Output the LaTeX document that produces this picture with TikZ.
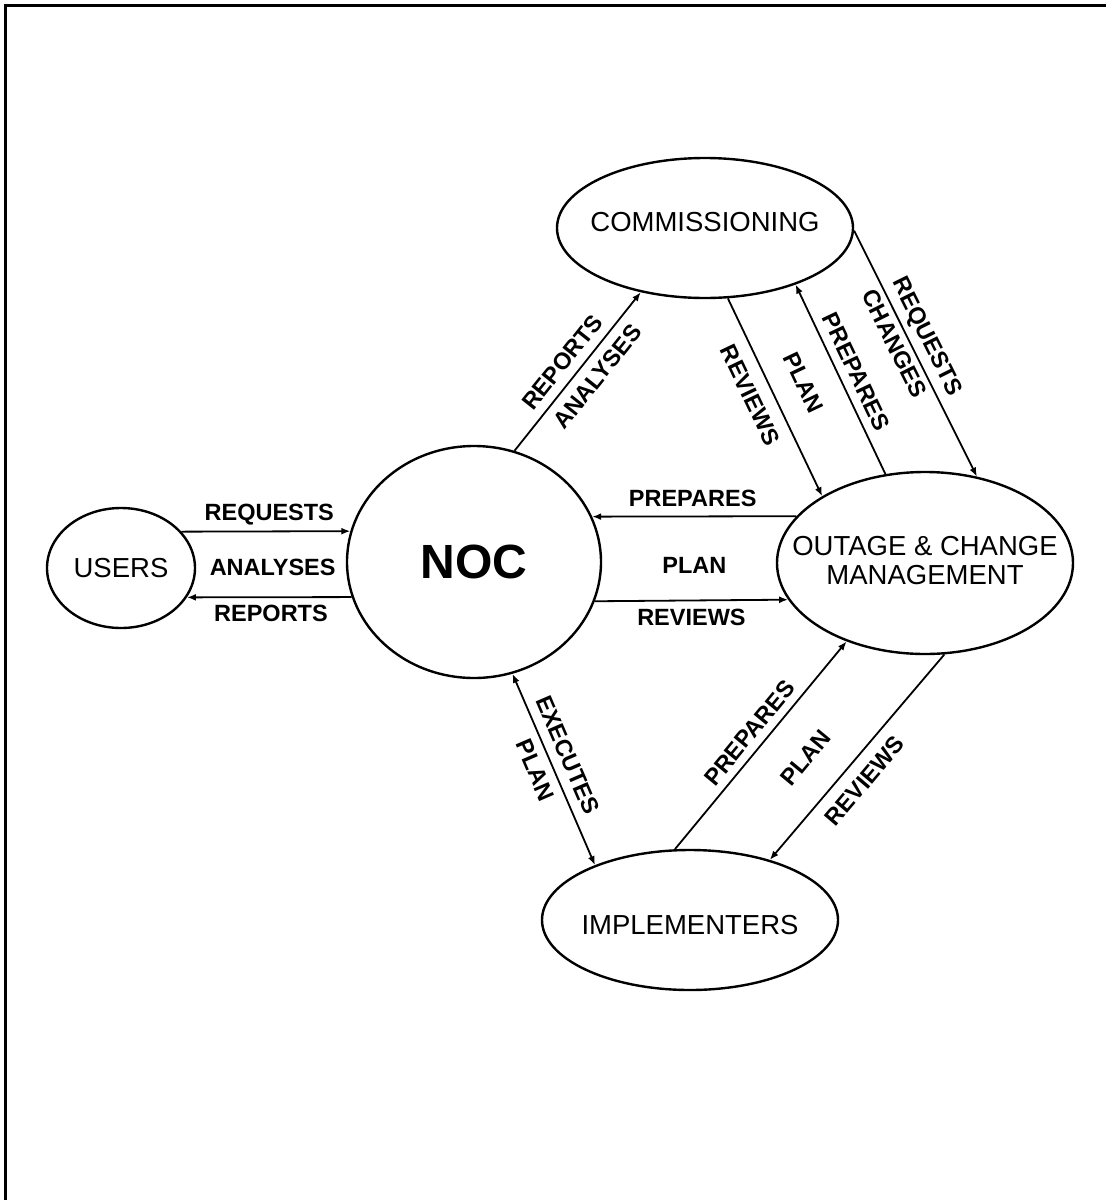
\documentclass[tikz,border=0pt]{standalone}
\usepackage{fontspec}
\setmainfont{Liberation Sans}
\usetikzlibrary{arrows.meta,shapes.geometric}
\newcommand\entfont{\fontsize{27.5}{29}\selectfont}
\newcommand\nocfont{\fontsize{48}{50}\selectfont\bfseries}
\begin{document}
\begin{tikzpicture}[x=1pt,y=-1pt,
  ent/.style={draw, ellipse, line width=2.4pt, inner sep=0pt},
  conn/.style={line width=1.8pt, -{Latex[length=9pt,width=7pt]}},
  both/.style={line width=1.8pt, {Latex[length=9pt,width=7pt]}-{Latex[length=9pt,width=7pt]}},
  lbl/.style={font=\fontsize{23.5}{24}\selectfont\bfseries, inner sep=3pt},
  frame/.style={line width=3pt}]
\useasboundingbox (0,0) rectangle (1106,1200);
\draw[frame] (5.5,1200) -- (5.5,5.5) -- (1106,5.5);

\node[ent, minimum width=148pt, minimum height=120pt,
  label={[font=\entfont]center:USERS}] (users) at (121,568) {};
\node[ent, minimum width=254pt, minimum height=232pt,
  label={[font=\nocfont]center:NOC}] (noc) at (474,562) {};
\node[ent, minimum width=296pt, minimum height=140pt,
  label={[font=\entfont, yshift=6pt]center:COMMISSIONING}] (comm) at (705,228) {};
\node[ent, minimum width=296pt, minimum height=182pt,
  label={[font=\entfont, align=center, yshift=2pt]center:OUTAGE \& CHANGE\\MANAGEMENT}] (ocm) at (925,563) {};
\node[ent, minimum width=296pt, minimum height=140pt,
  label={[font=\entfont, yshift=-5pt]center:IMPLEMENTERS}] (impl) at (690,920) {};

% users <-> noc
\draw[conn] (users.31.3) -- node[lbl, above=2pt, pos=.52]{REQUESTS}
  node[lbl, below=23.6pt, pos=.54]{ANALYSES} (noc.166.3);
\draw[conn] (noc.196.1) -- node[lbl, below=3.6pt, pos=.49]{REPORTS} (users.-24.1);

% noc <-> ocm
\draw[conn] (ocm.160.2) -- node[lbl, above=5.6pt, pos=.508]{PREPARES}
  node[lbl, below=36.6pt, pos=.5]{PLAN} (noc.21.0);
\draw[conn] (noc.-18.06) -- node[lbl, below=4.6pt, pos=.5]{REVIEWS} (ocm.195.8);

% noc -> comm
\draw[conn] (noc.70.9) -- node[lbl, sloped, above=5.6pt, pos=.489]{REPORTS}
  node[lbl, sloped, below=6.6pt, pos=.541]{ANALYSES} (comm.225.9);

% comm <-> ocm
\draw[conn] (comm.-72.6) -- node[lbl, sloped, below=9pt, pos=.443]{REVIEWS}
  node[lbl, sloped, above=20pt, pos=.496]{PLAN} (ocm.147.1);
\draw[conn] (ocm.114.0) -- node[lbl, sloped, above=5pt, pos=.501]{PREPARES} (comm.-32.4);
\draw[conn] (comm.-1.9) -- node[lbl, sloped, above=2.5pt, pos=.464]{REQUESTS}
  node[lbl, sloped, below=2pt, pos=.434]{CHANGES} (ocm.59.8);

% noc <-> impl
\draw[both] (noc.-71.9) -- node[lbl, sloped, above=6.4pt, pos=.463]{EXECUTES}
  node[lbl, sloped, below=5.2pt, pos=.468]{PLAN} (impl.150.1);

% impl <-> ocm
\draw[conn] (impl.102.1) -- node[lbl, sloped, above=4.4pt, pos=.509]{PREPARES}
  node[lbl, sloped, below=30.5pt, pos=.57]{PLAN} (ocm.225.8);
\draw[conn] (ocm.-78) -- node[lbl, sloped, below=8.7pt, pos=.548]{REVIEWS} (impl.37.9);
\end{tikzpicture}
\end{document}
